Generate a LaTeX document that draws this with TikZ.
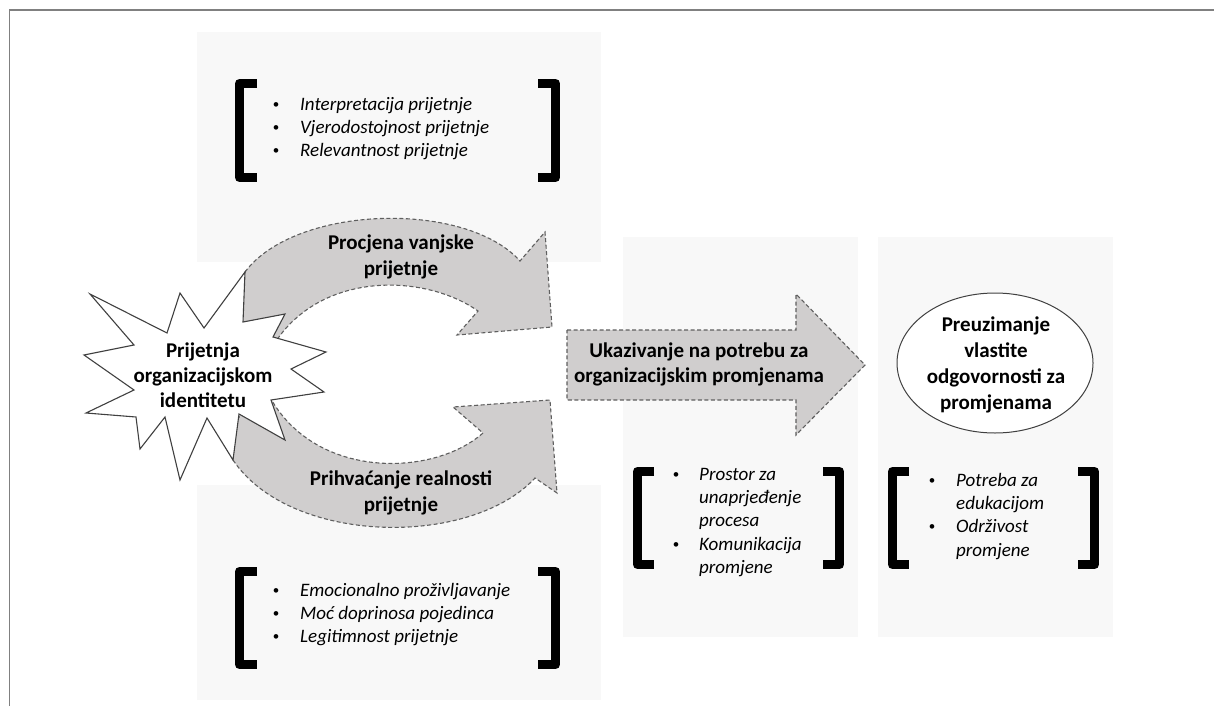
\documentclass[tikz,border=0pt]{standalone}
\usepackage{fontspec}
\setmainfont{Carlito}
\usetikzlibrary{shapes.geometric}
\definecolor{panelcol}{HTML}{F8F8F8}
\definecolor{arrowfill}{HTML}{D0CECE}
\definecolor{dashcol}{HTML}{5F5F5F}
\definecolor{framecol}{HTML}{808080}
\definecolor{starline}{HTML}{404040}
\begin{document}
\begin{tikzpicture}[x=1pt,y=-1pt,
  garrow/.style={fill=arrowfill,draw=dashcol,line width=1.1pt,dash pattern=on 4pt off 2.5pt,line join=miter},
  starshape/.style={fill=white,draw=starline,line width=1.1pt,line join=miter},
  boldline/.style={font=\fontsize{21}{26}\selectfont\bfseries,inner sep=0pt,text height=14pt,text depth=5pt},
  itemline/.style={font=\fontsize{19}{23}\selectfont\itshape,anchor=west,inner sep=0pt,text height=13pt,text depth=4pt},
  bulletdot/.style={font=\fontsize{13}{15}\selectfont,inner sep=0pt,text height=9pt,text depth=0pt},
  brk/.style={line width=9pt,line join=round,draw=black},
]
\useasboundingbox (0,0) rectangle (1214,706);
% frame
\draw[framecol,line width=1.6pt] (9.5,706) -- (9.5,10) -- (1214,10);
% panels
\fill[panelcol] (197,32) rectangle (601,262);
\fill[panelcol] (197,485) rectangle (601,700);
\fill[panelcol] (623,237) rectangle (858,637);
\fill[panelcol] (878,237) rectangle (1113,637);
% curved arrows
\draw[garrow] (245,272) .. controls (295,205) and (465,200) .. (520,261) -- (545,232) -- (552,327) -- (457,335) -- (478,311) .. controls (420,270) and (300,270) .. (262,368) -- (230,310) -- cycle;
\draw[garrow] (233,460) .. controls (290,545) and (470,548) .. (535,478) -- (557,493) -- (550,400) -- (453,407) -- (483,433) .. controls (430,480) and (300,480) .. (262,380) -- (225,440) -- cycle;
% star
\draw[starshape] (90,294) -- (167,333) -- (180,293) -- (204,328) -- (245,272) -- (243,322) -- (285,314) -- (273,337) -- (326,352) -- (291,369) -- (324,392) -- (271,400) -- (285,440) -- (239,414) -- (233,460) -- (207,418) -- (180,480) -- (165,417) -- (140,449) -- (136,417) -- (86,413) -- (134,390) -- (84,355) -- (134,345) -- cycle;
\node[boldline] (s1) at (203,353) {Prijetnja};
\node[boldline] (s2) at (203,378) {organizacijskom};
\node[boldline] (s3) at (203,403) {identitetu};
% arrow labels
\node[boldline] (u1) at (401,245) {Procjena vanjske};
\node[boldline] (u2) at (401,271) {prijetnje};
\node[boldline] (l1) at (401,481) {Prihvaćanje realnosti};
\node[boldline] (l2) at (401,507) {prijetnje};
% straight arrow
\draw[garrow] (567,330) -- (796,330) -- (796,294) -- (865,365) -- (796,435) -- (796,400) -- (567,400) -- cycle;
\node[boldline] (m1) at (699,353) {Ukazivanje na potrebu za};
\node[boldline] (m2) at (699,378) {organizacijskim promjenama};
% ellipse
\node[ellipse,draw=starline,fill=white,line width=1pt,minimum width=196pt,minimum height=140pt,inner sep=0pt] (resp) at (995,363) {};
\node[boldline] (e1) at (996,327) {Preuzimanje};
\node[boldline] (e2) at (996,353) {vlastite};
\node[boldline] (e3) at (996,379) {odgovornosti za};
\node[boldline] (e4) at (996,405) {promjenama};
% brackets
\draw[brk] (257,83.5) -- (239.5,83.5) -- (239.5,177.5) -- (257,177.5);
\draw[brk] (538,83.5) -- (555.5,83.5) -- (555.5,177.5) -- (538,177.5);
\draw[brk] (257,571.5) -- (239.5,571.5) -- (239.5,664.5) -- (257,664.5);
\draw[brk] (538,571.5) -- (555.5,571.5) -- (555.5,664.5) -- (538,664.5);
\draw[brk] (654,471.5) -- (637.5,471.5) -- (637.5,564.5) -- (654,564.5);
\draw[brk] (823,471.5) -- (839.5,471.5) -- (839.5,564.5) -- (823,564.5);
\draw[brk] (909,471.5) -- (892.5,471.5) -- (892.5,564.5) -- (909,564.5);
\draw[brk] (1078,471.5) -- (1094.5,471.5) -- (1094.5,564.5) -- (1078,564.5);
% top list
\node[bulletdot] (tb1) at (276,104) {•};
\node[bulletdot] (tb2) at (276,127) {•};
\node[bulletdot] (tb3) at (276,150) {•};
\node[itemline] (t1) at (300,106) {Interpretacija prijetnje};
\node[itemline] (t2) at (300,129) {Vjerodostojnost prijetnje};
\node[itemline] (t3) at (300,152) {Relevantnost prijetnje};
% bottom list
\node[bulletdot] (bb1) at (276,590) {•};
\node[bulletdot] (bb2) at (276,613) {•};
\node[bulletdot] (bb3) at (276,636) {•};
\node[itemline] (b1) at (300,592) {Emocionalno proživljavanje};
\node[itemline] (b2) at (300,615) {Moć doprinosa pojedinca};
\node[itemline] (b3) at (300,638) {Legitimnost prijetnje};
% middle list 1
\node[bulletdot] (pb1) at (676,474) {•};
\node[bulletdot] (pb2) at (676,544) {•};
\node[itemline] (p1) at (699,476) {Prostor za};
\node[itemline] (p2) at (699,499) {unaprjeđenje};
\node[itemline] (p3) at (699,522) {procesa};
\node[itemline] (p4) at (699,546) {Komunikacija};
\node[itemline] (p5) at (699,569) {promjene};
% middle list 2
\node[bulletdot] (qb1) at (932,480) {•};
\node[bulletdot] (qb2) at (932,526) {•};
\node[itemline] (q1) at (956,482) {Potreba za};
\node[itemline] (q2) at (956,505) {edukacijom};
\node[itemline] (q3) at (956,528) {Održivost};
\node[itemline] (q4) at (956,552) {promjene};
\end{tikzpicture}
\end{document}
